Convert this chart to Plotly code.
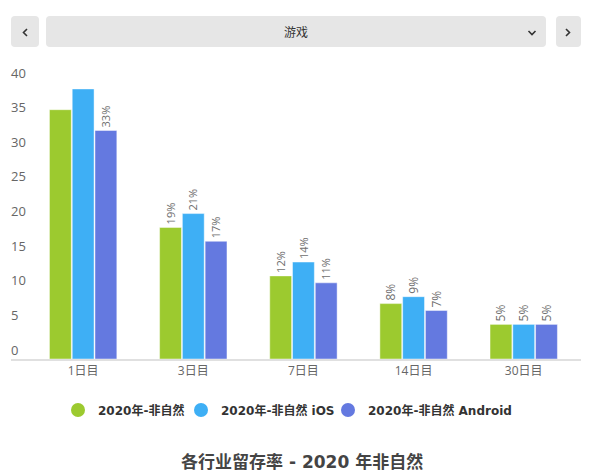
import plotly.graph_objects as go

# ---- data ----
categories = ["1日目", "3日目", "7日目", "14日目", "30日目"]
series_names = ["2020年-非自然", "2020年-非自然 iOS", "2020年-非自然 Android"]
values_all = [36, 19, 12, 8, 5]
values_ios = [39, 21, 14, 9, 5]
values_android = [33, 17, 11, 7, 5]
labels_all = ["", "19%", "12%", "8%", "5%"]
labels_ios = ["", "21%", "14%", "9%", "5%"]
labels_android = ["33%", "17%", "11%", "7%", "5%"]
y_ticks = [0, 5, 10, 15, 20, 25, 30, 35, 40]
dropdown_label = "游戏"
chart_title = "各行业留存率 - 2020 年非自然"

colors = ["#9cca2f", "#3eaff5", "#6479e0"]

W, H = 595, 476
L, R, T, B = 11, 14, 82, 117
FONT = "Open Sans, Noto Sans CJK SC, sans-serif"
BOLD_FONT = "DejaVu Sans, Noto Sans CJK SC, sans-serif"


def px(x):
    return (x - L) / (W - L - R)


def py(y):
    return (H - B - y) / (H - T - B)


def rrect(x0, y0, x1, y1, r):
    return (f"M {px(x0 + r)},{py(y0)} L {px(x1 - r)},{py(y0)} "
            f"Q {px(x1)},{py(y0)} {px(x1)},{py(y0 + r)} "
            f"L {px(x1)},{py(y1 - r)} Q {px(x1)},{py(y1)} {px(x1 - r)},{py(y1)} "
            f"L {px(x0 + r)},{py(y1)} Q {px(x0)},{py(y1)} {px(x0)},{py(y1 - r)} "
            f"L {px(x0)},{py(y0 + r)} Q {px(x0)},{py(y0)} {px(x0 + r)},{py(y0)} Z")


legend_ids = ["legend", "legend2", "legend3"]
legend_left_px = [58, 181, 328]

fig = go.Figure()
for name, vals, labs, col, lid in zip(series_names,
                                      [values_all, values_ios, values_android],
                                      [labels_all, labels_ios, labels_android],
                                      colors, legend_ids):
    fig.add_trace(go.Bar(
        x=categories, y=vals, name=name, text=labs,
        textposition="outside", textangle=-90,
        textfont=dict(size=12, color="#6e6e6e", family=FONT),
        marker=dict(color=col, line=dict(color="rgba(255,255,255,0.45)", width=1)),
        showlegend=False, cliponaxis=False,
    ))
    # legend entry with circle symbol
    fig.add_trace(go.Scatter(
        x=[None], y=[None], mode="markers", name=name, legend=lid,
        marker=dict(color=col, size=14, symbol="circle"),
    ))

shapes = [
    dict(type="path", xref="paper", yref="paper", path=rrect(11, 16, 39, 47, 4),
         fillcolor="#e6e6e6", line=dict(width=0), layer="below"),
    dict(type="path", xref="paper", yref="paper", path=rrect(46, 16, 546, 47, 4),
         fillcolor="#e6e6e6", line=dict(width=0), layer="below"),
    dict(type="path", xref="paper", yref="paper", path=rrect(556, 16, 581, 47, 4),
         fillcolor="#e6e6e6", line=dict(width=0), layer="below"),
    # chevrons
    dict(type="path", xref="paper", yref="paper",
         path=f"M {px(27)},{py(29)} L {px(23.5)},{py(32.5)} L {px(27)},{py(36)}",
         line=dict(color="#333", width=1.6)),
    dict(type="path", xref="paper", yref="paper",
         path=f"M {px(566)},{py(29)} L {px(569.5)},{py(32.5)} L {px(566)},{py(36)}",
         line=dict(color="#333", width=1.6)),
    dict(type="path", xref="paper", yref="paper",
         path=f"M {px(528.5)},{py(31)} L {px(532)},{py(34.5)} L {px(535.5)},{py(31)}",
         line=dict(color="#333", width=1.6)),
]

annotations = [
    dict(text=dropdown_label, xref="paper", yref="paper", x=px(296), y=py(33),
         showarrow=False, font=dict(size=12, color="#333", family=FONT),
         xanchor="center", yanchor="middle"),
    dict(text=chart_title, xref="paper", yref="paper", x=px(302), y=py(462),
         showarrow=False, font=dict(size=17, color="#444", family=BOLD_FONT, weight=700),
         xanchor="center", yanchor="middle"),
]

legend_layouts = {}
for lid, lx in zip(legend_ids, legend_left_px):
    legend_layouts[lid] = dict(
        orientation="h", x=px(lx), xanchor="left", y=py(410), yanchor="middle",
        font=dict(size=12, color="#333", family=BOLD_FONT, weight=700),
        itemwidth=30, bgcolor="rgba(0,0,0,0)",
    )

fig.update_layout(
    width=W, height=H,
    margin=dict(l=L, r=R, t=T, b=B, pad=0),
    paper_bgcolor="white", plot_bgcolor="white",
    barmode="group", bargap=0.38, bargroupgap=0.04,
    font=dict(family=FONT, color="#666"),
    xaxis=dict(
        range=[-0.655, 4.52], showline=True, linecolor="#e0e0e0", linewidth=1.5,
        showgrid=False, ticks="", tickfont=dict(size=12, color="#666"),
        zeroline=False,
    ),
    yaxis=dict(
        range=[0, 40], tickvals=y_ticks, showgrid=False, zeroline=False,
        showline=False, ticks="", ticklabelposition="inside",
        ticklabeloverflow="allow",
        ticklabelshift=-9, ticklabelstandoff=-3,
        tickfont=dict(size=13, color="#666"),
    ),
    shapes=shapes, annotations=annotations,
    **legend_layouts,
)

fig.write_html("out.html", config={"displayModeBar": False},
               post_script="document.body.style.margin='0';")
